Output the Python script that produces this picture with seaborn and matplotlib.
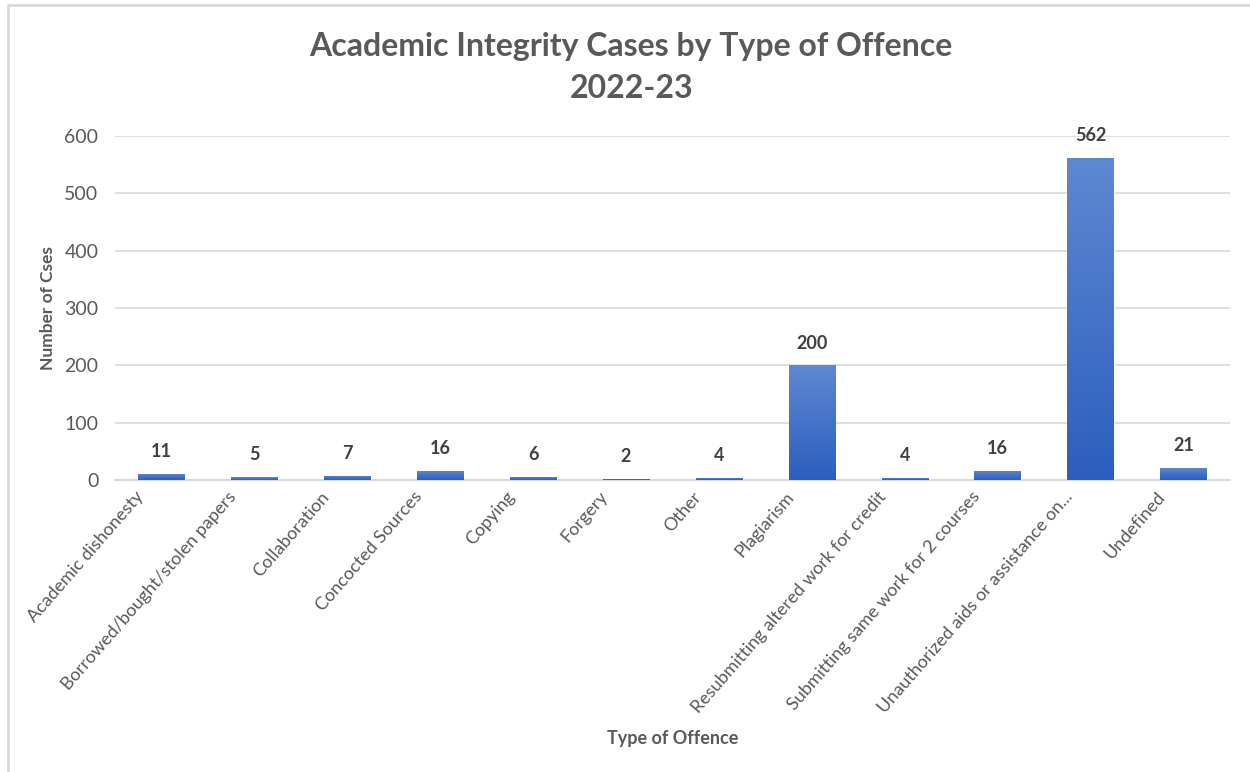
import numpy as np
import pandas as pd
import matplotlib.pyplot as plt
import matplotlib.transforms as mtransforms
import seaborn as sns
from matplotlib.lines import Line2D
from matplotlib.colors import LinearSegmentedColormap

# data
offences = ["Academic dishonesty", "Borrowed/bought/stolen papers", "Collaboration",
            "Concocted Sources", "Copying", "Forgery", "Other", "Plagiarism",
            "Resubmitting altered work for credit", "Submitting same work for 2 courses",
            "Unauthorized aids or assistance on...", "Undefined"]
cases = [11, 5, 7, 16, 6, 2, 4, 200, 4, 16, 562, 21]
y_ticks = [0, 100, 200, 300, 400, 500, 600]

BAR_COLOR = "#3F6FC9"
TEXT_GRAY = "#595959"
GRID_GRAY = "#D9D9D9"

sns.set_theme(style="white")
plt.rcParams['font.family'] = ['Lato', 'DejaVu Sans']

df = pd.DataFrame({"Offence": offences, "Cases": cases})

fig = plt.figure(figsize=(12.5, 7.72), dpi=100)
ax = fig.add_axes([0.092, 0.378, 0.892, 0.446])

sns.barplot(ax=ax, data=df, x="Offence", y="Cases", color=BAR_COLOR,
            width=0.5, saturation=1, zorder=3)

# excel-like vertical gradient inside each bar
grad_cmap = LinearSegmentedColormap.from_list("bar_grad", ["#2C5EBE", "#5E88D2"])
grad = np.linspace(0, 1, 256).reshape(-1, 1)
for p in ax.patches:
    x0, w, h = p.get_x(), p.get_width(), p.get_height()
    if h <= 0:
        continue
    im = ax.imshow(grad, cmap=grad_cmap, origin="lower", aspect="auto",
                   extent=[x0, x0 + w, 0, h], zorder=3.5)
    im.set_clip_path(p)

for c in ax.containers:
    ax.bar_label(c, padding=10, fontsize=13, fontweight='bold', color="#404040")

ax.set_ylim(0, 600)
ax.set_yticks(y_ticks)
ax.set_xlim(-0.5, len(offences) - 0.5)
ax.set_aspect("auto")
ax.yaxis.grid(True, color=GRID_GRAY, linewidth=1.2, zorder=0)
for s in ["top", "right", "left"]:
    ax.spines[s].set_visible(False)
ax.spines["bottom"].set_color(GRID_GRAY)
ax.spines["bottom"].set_linewidth(1.5)

ax.tick_params(axis='y', labelsize=14, labelcolor=TEXT_GRAY, length=0, pad=12)
ax.tick_params(axis='x', labelsize=13, labelcolor=TEXT_GRAY, length=0, pad=6)
shift = mtransforms.ScaledTranslation(-0.27, 0, fig.dpi_scale_trans)
for lab in ax.get_xticklabels():
    lab.set_rotation(49)
    lab.set_ha('right')
    lab.set_rotation_mode('anchor')
    lab.set_transform(lab.get_transform() + shift)

ax.set_ylabel("Number of Cses", fontsize=12.5, fontweight='bold', color=TEXT_GRAY, labelpad=6)
ax.set_xlabel("")
fig.text(0.538, 0.044, "Type of Offence", fontsize=13, fontweight='bold',
         color=TEXT_GRAY, ha='center', va='center')

fig.text(0.505, 0.94, "Academic Integrity Cases by Type of Offence", fontsize=23,
         fontweight='bold', color=TEXT_GRAY, ha='center', va='center')
fig.text(0.505, 0.886, "2022-23", fontsize=23,
         fontweight='bold', color=TEXT_GRAY, ha='center', va='center')

# thin frame lines like the source screenshot
fig.add_artist(Line2D([0.006, 1.0], [0.994, 0.994], color=GRID_GRAY, linewidth=2))
fig.add_artist(Line2D([0.006, 0.006], [0.0, 0.994], color=GRID_GRAY, linewidth=2))

plt.savefig("out.png", dpi=100)
